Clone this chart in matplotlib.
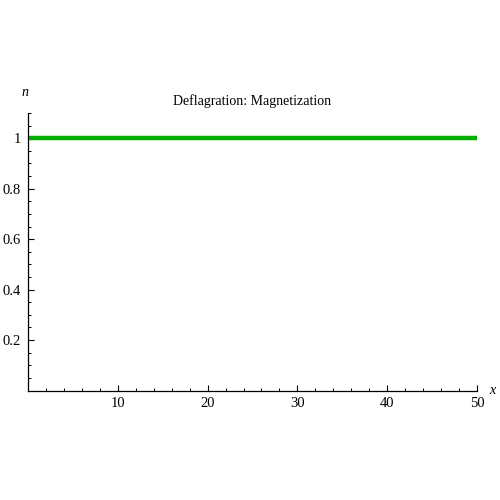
import matplotlib
matplotlib.use("Agg")
import matplotlib.pyplot as plt
from matplotlib.ticker import MultipleLocator, FixedLocator

x_vals = [0, 50]
m_vals = [1.0, 1.0]
x_ticks = [10, 20, 30, 40, 50]
x_tick_labels = ["10", "20", "30", "40", "50"]
y_ticks = [0.2, 0.4, 0.6, 0.8, 1.0]
y_tick_labels = ["0.2", "0.4", "0.6", "0.8", "1"]

plt.rcParams['font.family'] = ['Liberation Serif', 'DejaVu Serif']

fig = plt.figure(figsize=(5, 5), dpi=100)
ax = fig.add_axes([0.056, 0.219, 0.898, 0.555])
ax.plot(x_vals, m_vals, color='#00ad00', lw=3.2, solid_capstyle='butt')
ax.set_xlim(0, 50)
ax.set_ylim(0, 1.1)
ax.spines['top'].set_visible(False)
ax.spines['right'].set_visible(False)
for s in ('left', 'bottom'):
    ax.spines[s].set_linewidth(0.9)
ax.xaxis.set_major_locator(FixedLocator(x_ticks))
ax.set_xticklabels(x_tick_labels)
ax.yaxis.set_major_locator(FixedLocator(y_ticks))
ax.set_yticklabels(y_tick_labels)
ax.xaxis.set_minor_locator(MultipleLocator(2))
ax.yaxis.set_minor_locator(MultipleLocator(0.05))
ax.tick_params(which='major', direction='in', length=4.5, width=0.8, labelsize=10.5, pad=5)
ax.tick_params(which='minor', direction='in', length=2.5, width=0.7)
ax.set_title("Deflagration: Magnetization", fontsize=10, pad=6)
fig.text(25/500, 1 - 93/500, "n", fontsize=10, style='italic', ha='center', va='center')
fig.text(492/500, 1 - 390/500, "x", fontsize=10, style='italic', ha='center', va='center')
fig.savefig("out.png", dpi=100)
